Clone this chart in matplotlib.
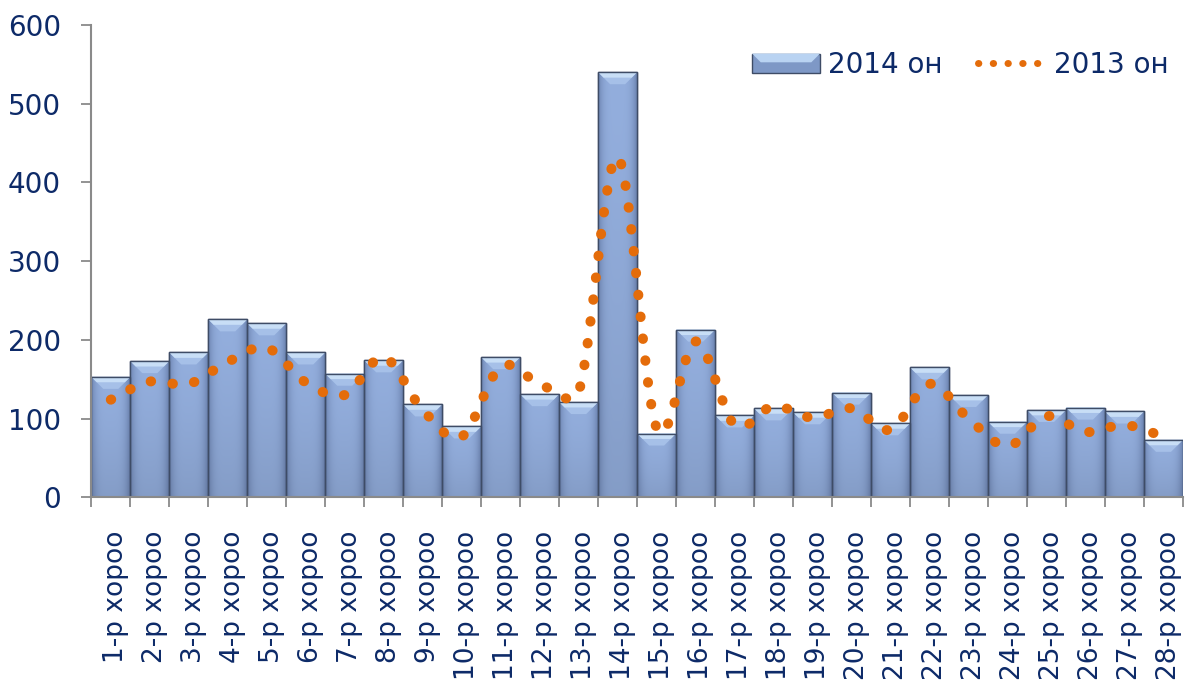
import numpy as np
import matplotlib
matplotlib.use("Agg")
import matplotlib.pyplot as plt
from matplotlib.path import Path
from matplotlib.patches import PathPatch, Polygon, Patch
from matplotlib.lines import Line2D
import matplotlib.transforms as mtransforms
from matplotlib.legend_handler import HandlerPatch

# ---------------- data ----------------
categories = ["1-р хороо", "2-р хороо", "3-р хороо", "4-р хороо", "5-р хороо",
              "6-р хороо", "7-р хороо", "8-р хороо", "9-р хороо", "10-р хороо",
              "11-р хороо", "12-р хороо", "13-р хороо", "14-р хороо", "15-р хороо",
              "16-р хороо", "17-р хороо", "18-р хороо", "19-р хороо", "20-р хороо",
              "21-р хороо", "22-р хороо", "23-р хороо", "24-р хороо", "25-р хороо",
              "26-р хороо", "27-р хороо", "28-р хороо"]
values_2014 = [153, 173, 184, 226, 221, 184, 157, 174, 118, 90, 178, 131, 121, 540,
               81, 213, 104, 113, 108, 133, 94, 165, 130, 96, 111, 114, 109, 73]
values_2013 = [124, 147, 144, 172, 190, 146, 130, 178, 111, 77, 166, 144, 134, 432,
               88, 198, 92, 116, 101, 113, 86, 144, 100, 65, 103, 83, 92, 77]
series_names = ["2014 он", "2013 он"]
y_ticks = [0, 100, 200, 300, 400, 500, 600]

# ---------------- style ----------------
TEXT = "#0D2A68"
AXIS = "#8A8A8A"
ORANGE = "#E46C0A"
BAR_EDGE = "#3E4C66"
plt.rcParams["font.family"] = ["DejaVu Sans"]

W, H, DPI = 1189, 686, 100
fig = plt.figure(figsize=(W / DPI, H / DPI), dpi=DPI)
left_px, right_px, top_px, bottom_px = 91.3, 1183.0, 25.0, 497.3
ax = fig.add_axes([left_px / W, 1 - bottom_px / H,
                   (right_px - left_px) / W, (bottom_px - top_px) / H])

n = len(categories)
x = np.arange(n)
ax.set_xlim(-0.5, n - 0.5)
ax.set_ylim(0, 600)

# pixel scale factors (px per data unit)
sx = (right_px - left_px) / n
sy = (bottom_px - top_px) / 600.0

# ---------------- bars ----------------
bars = ax.bar(x, values_2014, width=1.0, color="#8CA7D5", edgecolor=BAR_EDGE,
              linewidth=1.0, zorder=2)

# gradient texture for the bars
u = np.linspace(0, 1, 60)
v = np.linspace(0, 1, 200)
U, V = np.meshgrid(u, v)
center = np.array([0x93, 0xAE, 0xDD]) / 255.0
edge = np.array([0x6C, 0x83, 0xB0]) / 255.0
t = np.abs(U - 0.5) * 2
mix = np.clip(t ** 4, 0, 1)
img = center[None, None, :] * (1 - mix[..., None]) + edge[None, None, :] * mix[..., None]
dark = 1 - 0.10 * V ** 1.5
img = img * dark[..., None]

bev_x = 12.0 / sx
bev_y = 12.0 / sy
for rect, xi, h in zip(bars, x, values_2014):
    im = ax.imshow(img, extent=(xi - 0.5, xi + 0.5, 0, h), aspect="auto",
                   zorder=2.1, interpolation="bilinear")
    im.set_clip_path(rect)
    bev = Polygon([(xi - 0.5, h), (xi + 0.5, h), (xi + 0.5 - bev_x, h - bev_y),
                   (xi - 0.5 + bev_x, h - bev_y)], closed=True,
                  facecolor="#A6C0E8", edgecolor="none", zorder=2.2)
    ax.add_patch(bev)
    f = 0.45
    bev2 = Polygon([(xi - 0.5, h), (xi + 0.5, h), (xi + 0.5 - bev_x * f, h - bev_y * f),
                    (xi - 0.5 + bev_x * f, h - bev_y * f)], closed=True,
                   facecolor="#C8DEF6", edgecolor="none", zorder=2.25)
    ax.add_patch(bev2)
    ax.add_patch(Polygon([(xi - 0.5, 0), (xi - 0.5, h), (xi + 0.5, h), (xi + 0.5, 0)],
                         closed=True, fill=False, edgecolor=BAR_EDGE, linewidth=1.0,
                         zorder=2.3))

ax.set_xlim(-0.5, n - 0.5)
ax.set_ylim(0, 600)


# ---------------- smoothed dotted line (Excel-style smoothing) ----------------
def smooth_path(xs, ys):
    P = np.column_stack([np.asarray(xs, float) * sx, np.asarray(ys, float) * sy])
    m = len(P)
    verts = [P[0]]
    codes = [Path.MOVETO]
    for i in range(m - 1):
        p0 = P[i - 1] if i > 0 else P[i]
        p1 = P[i]
        p2 = P[i + 1]
        p3 = P[i + 2] if i + 2 < m else P[i + 1]
        d12 = np.linalg.norm(p2 - p1)
        t1 = (p2 - p0) / 6.0
        t2 = (p3 - p1) / 6.0
        l1 = np.linalg.norm(t1)
        l2 = np.linalg.norm(t2)
        if l1 > d12 / 2:
            t1 = t1 * (d12 / 2 / l1)
        if l2 > d12 / 2:
            t2 = t2 * (d12 / 2 / l2)
        verts += [p1 + t1, p2 - t2, p2]
        codes += [Path.CURVE4] * 3
    verts = np.array(verts) / np.array([sx, sy])
    return Path(verts, codes)


dot_px = 10.0
dot_lw = dot_px * 72 / DPI
line_patch = PathPatch(smooth_path(x, values_2013), fill=False, edgecolor=ORANGE,
                       linewidth=dot_lw, linestyle=(0, (0.05, 21.5 / dot_px)),
                       capstyle="round", zorder=4)
ax.add_patch(line_patch)

# ---------------- axes styling ----------------
for s in ["top", "right"]:
    ax.spines[s].set_visible(False)
for s in ["left", "bottom"]:
    ax.spines[s].set_color(AXIS)
    ax.spines[s].set_linewidth(1.5)
    ax.spines[s].set_zorder(5)

ax.set_yticks(y_ticks)
ax.set_yticklabels([str(v) for v in y_ticks])
ax.tick_params(axis="y", direction="out", length=7.2, width=1.3, color=AXIS,
               labelsize=20, labelcolor=TEXT, pad=14.5)

ax.set_xticks(x)
ax.set_xticks(np.arange(n + 1) - 0.5, minor=True)
ax.set_xticklabels(categories, rotation=90, fontsize=19, color=TEXT)
ax.tick_params(axis="x", which="major", length=0, pad=24)
ax.tick_params(axis="x", which="minor", direction="out", length=7, width=1.3,
               color=AXIS)
offset = mtransforms.ScaledTranslation(5.5 / DPI, 0, fig.dpi_scale_trans)
for lab in ax.get_xticklabels():
    lab.set_transform(lab.get_transform() + offset)
    lab.set_va("top")
    lab.set_ha("center")


# ---------------- legend ----------------
class BevelHandler(HandlerPatch):
    def create_artists(self, legend, orig_handle, xdescent, ydescent, width,
                       height, fontsize, trans):
        x0, y0 = -xdescent, -ydescent
        arts = []
        base = plt.Rectangle((x0, y0), width, height, facecolor="#7E98C6",
                             edgecolor=BAR_EDGE, linewidth=1.0, transform=trans)
        arts.append(base)
        b = height * 0.45
        top = Polygon([(x0, y0 + height), (x0 + width, y0 + height),
                       (x0 + width - b, y0 + height - b), (x0 + b, y0 + height - b)],
                      closed=True, facecolor="#B9D3F2", edgecolor="none",
                      transform=trans)
        arts.append(top)
        return arts


bar_handle = Patch(facecolor="#8CA7D5", edgecolor=BAR_EDGE)
leg_dot_px = 7.0
line_handle = Line2D([], [], color=ORANGE, linewidth=leg_dot_px * 72 / DPI,
                     linestyle=(0, (0.05, 14.4 / leg_dot_px)), dash_capstyle="round")
leg = ax.legend([bar_handle, line_handle], series_names, ncol=2, frameon=False,
                fontsize=20, labelcolor=TEXT, handlelength=2.45, handleheight=0.7,
                handletextpad=0.3, columnspacing=1.25, borderpad=0,
                borderaxespad=0, loc="center left",
                bbox_to_anchor=(752 / W, 1 - 65 / H), bbox_transform=fig.transFigure,
                handler_map={Patch: BevelHandler()})

fig.savefig("out.png", dpi=DPI)
